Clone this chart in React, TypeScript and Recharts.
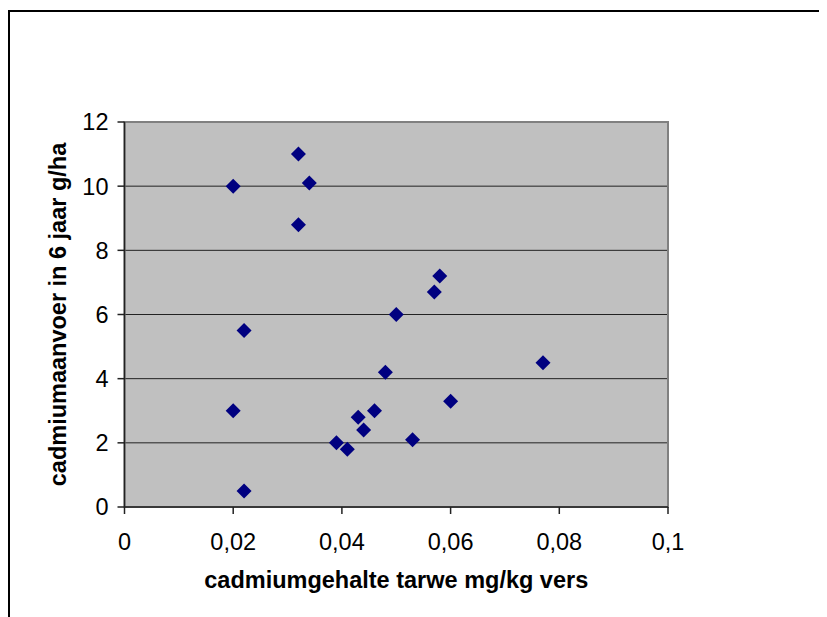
import React from 'react';
import {
  ScatterChart,
  Scatter,
  XAxis,
  YAxis,
  CartesianGrid,
  ReferenceArea,
  Label,
} from 'recharts';

const cadmiumTarwe = [
  0.032, 0.02, 0.034, 0.032, 0.058, 0.057, 0.05, 0.022, 0.048, 0.06,
  0.02, 0.046, 0.043, 0.044, 0.053, 0.039, 0.041, 0.022, 0.077,
];
const cadmiumAanvoer = [
  11, 10, 10.1, 8.8, 7.2, 6.7, 6, 5.5, 4.2, 3.3,
  3, 3, 2.8, 2.4, 2.1, 2, 1.8, 0.5, 4.5,
];
const xTicks = [0, 0.02, 0.04, 0.06, 0.08, 0.1];
const yTicks = [0, 2, 4, 6, 8, 10, 12];
const xTitle = 'cadmiumgehalte tarwe mg/kg vers';
const yTitle = 'cadmiumaanvoer in 6 jaar g/ha';

const data = cadmiumTarwe.map((x, i) => ({ x, y: cadmiumAanvoer[i] }));

const FONT = '"Liberation Sans", Arial, sans-serif';
const FS = 23.5;

const Diamond = (props: any) => {
  const { cx, cy } = props;
  const r = 7.5;
  return (
    <polygon
      points={`${cx},${cy - r} ${cx + r},${cy} ${cx},${cy + r} ${cx - r},${cy}`}
      fill="#000080"
    />
  );
};

export default function App() {
  return (
    <div style={{ position: 'relative', width: 819, height: 609 }}>
      <div
        style={{
          position: 'absolute',
          left: 0,
          top: 2,
          width: 819,
          height: 607,
          borderLeft: '2px solid #000',
          borderTop: '2px solid #000',
          boxSizing: 'border-box',
        }}
      />
      <div style={{ position: 'absolute', left: 0, top: 0 }}>
        <ScatterChart
          width={819}
          height={609}
          margin={{ top: 114, right: 159, bottom: 0, left: 0 }}
        >
          <CartesianGrid
            vertical={false}
            fill="#c0c0c0"
            stroke="#222"
            strokeWidth={1}
            fillOpacity={1}
          />
          <ReferenceArea
            x1={0}
            x2={0.1}
            y1={0}
            y2={12}
            fill="none"
            stroke="#808080"
            strokeWidth={2}
            ifOverflow="visible"
          />
          <XAxis
            type="number"
            dataKey="x"
            domain={[0, 0.1]}
            ticks={xTicks}
            interval={0}
            allowDataOverflow
            height={110}
            tickSize={7}
            tickMargin={19}
            stroke="#222"
            strokeWidth={1.5}
            tick={{ fill: '#000', fontSize: FS, fontFamily: FONT }}
            tickFormatter={(v: number) => String(v).replace('.', ',')}
          >
            <Label
              content={(p: any) => {
                const vb = p.viewBox;
                return (
                  <text
                    x={vb.x + vb.width / 2}
                    y={vb.y + 81}
                    textAnchor="middle"
                    fontFamily={FONT}
                    fontWeight="bold"
                    fontSize={FS}
                    fill="#000"
                  >
                    {xTitle}
                  </text>
                );
              }}
            />
          </XAxis>
          <YAxis
            type="number"
            dataKey="y"
            domain={[0, 12]}
            ticks={yTicks}
            interval={0}
            width={116.5}
            tickSize={7}
            tickMargin={9}
            stroke="#222"
            strokeWidth={1.5}
            tick={{ fill: '#000', fontSize: FS, fontFamily: FONT }}
          >
            <Label
              content={(p: any) => {
                const vb = p.viewBox;
                const cx = 50;
                const cy = vb.y + vb.height / 2;
                return (
                  <text
                    x={cx}
                    y={cy}
                    textAnchor="middle"
                    dominantBaseline="central"
                    transform={`rotate(-90, ${cx}, ${cy})`}
                    fontFamily={FONT}
                    fontWeight="bold"
                    fontSize={FS}
                    fill="#000"
                  >
                    {yTitle}
                  </text>
                );
              }}
            />
          </YAxis>
          <Scatter data={data} shape={Diamond} isAnimationActive={false} />
        </ScatterChart>
      </div>
    </div>
  );
}
